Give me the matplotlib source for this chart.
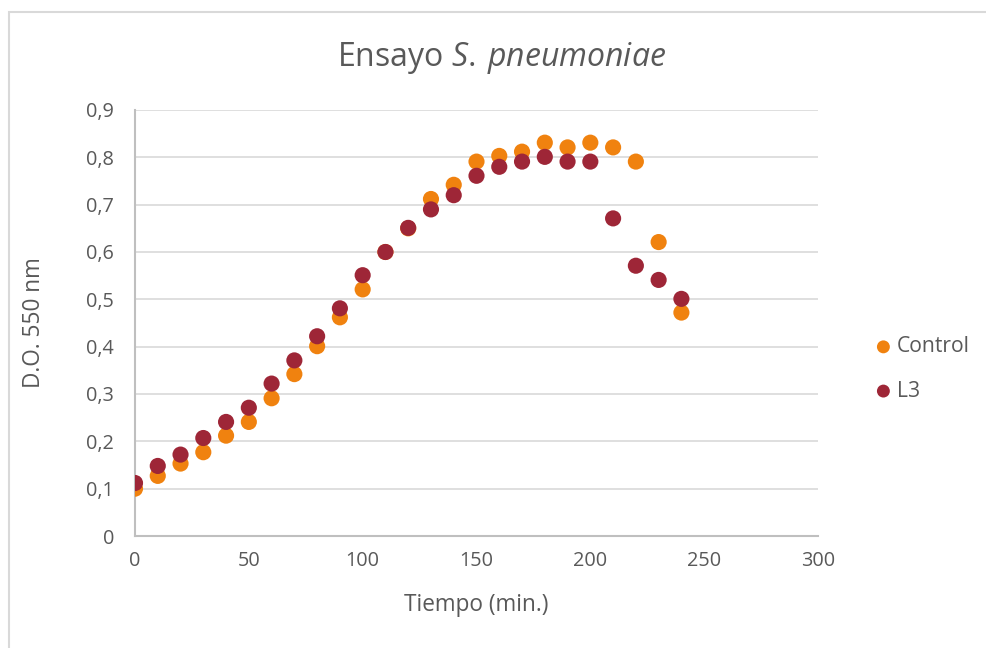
import matplotlib
matplotlib.use("Agg")
import matplotlib.pyplot as plt
from matplotlib.patches import Rectangle
from matplotlib.ticker import FuncFormatter

time_min = [0, 10, 20, 30, 40, 50, 60, 70, 80, 90, 100, 110, 120, 130, 140,
            150, 160, 170, 180, 190, 200, 210, 220, 230, 240]
control = [0.10, 0.127, 0.153, 0.177, 0.212, 0.241, 0.291, 0.342, 0.401, 0.462,
           0.521, 0.60, 0.65, 0.712, 0.742, 0.791, 0.803, 0.812, 0.831, 0.821,
           0.831, 0.821, 0.791, 0.621, 0.472]
l3 = [0.112, 0.148, 0.172, 0.207, 0.241, 0.271, 0.322, 0.371, 0.422, 0.481,
      0.551, 0.60, 0.651, 0.690, 0.720, 0.761, 0.780, 0.791, 0.801, 0.791,
      0.791, 0.671, 0.571, 0.541, 0.501]
series_names = ["Control", "L3"]
y_ticks = [0, 0.1, 0.2, 0.3, 0.4, 0.5, 0.6, 0.7, 0.8, 0.9]
x_ticks = [0, 50, 100, 150, 200, 250, 300]

plt.rcParams['font.family'] = ['Open Sans', 'DejaVu Sans']
plt.rcParams['mathtext.fontset'] = 'custom'
plt.rcParams['mathtext.rm'] = 'Open Sans'
plt.rcParams['mathtext.it'] = 'Open Sans:italic'

text_color = '#595959'
orange = '#F0820F'
darkred = '#9E2637'

fig = plt.figure(figsize=(9.86, 6.48), dpi=100)
fig.patch.set_facecolor('white')
# outer chart border
fig.patches.append(Rectangle((9/986, -0.05), 1.1, (648-12)/648 + 0.05,
                             transform=fig.transFigure, fill=False,
                             edgecolor='#d9d9d9', linewidth=1.5, zorder=0))

ax = fig.add_axes([135/986, 1-536/648, (818-135)/986, (536-110)/648])
ax.set_xlim(0, 300)
ax.set_ylim(0, 0.9)
ax.set_xticks(x_ticks)
ax.set_yticks(y_ticks)
ax.yaxis.set_major_formatter(FuncFormatter(lambda v, p: ('%.1f' % v).replace('.', ',') if v != 0 else '0'))
ax.grid(axis='y', color='#d9d9d9', linewidth=1.2)
ax.set_axisbelow(True)
for s in ['top', 'right']:
    ax.spines[s].set_visible(False)
for s in ['left', 'bottom']:
    ax.spines[s].set_color('#bfbfbf')
    ax.spines[s].set_linewidth(1.5)
ax.tick_params(length=0, labelsize=14.3, colors=text_color)
ax.tick_params(axis='y', pad=15)
ax.tick_params(axis='x', pad=11)

ax.scatter(time_min, control, s=135, color=orange, edgecolors='none', zorder=3, label=series_names[0])
ax.scatter(time_min, l3, s=135, color=darkred, edgecolors='none', zorder=4, label=series_names[1])

ax.set_xlabel('Tiempo (min.)', fontsize=16.3, color=text_color)
ax.set_ylabel('D.O. 550 nm', fontsize=16.3, color=text_color)
ax.xaxis.set_label_coords(0.5, 1 - (605-110)/426, transform=ax.transAxes)
ax.yaxis.set_label_coords((34-135)/683, 0.5, transform=ax.transAxes)
ax.xaxis.label.set_va('center')
ax.yaxis.label.set_va('center')

fig.text(502/986, 1-58/648, r'Ensayo $S.\:pneumoniae$', ha='center', va='center',
         fontsize=23, color=text_color)

leg = fig.legend(loc='center left', bbox_to_anchor=(876/986, 1-369/648), frameon=False,
                 fontsize=15.2, labelcolor=text_color, markerscale=0.8,
                 handlelength=0.7, handletextpad=0.3, labelspacing=1.1, borderaxespad=0,
                 borderpad=0)

fig.savefig('out.png', dpi=100)
